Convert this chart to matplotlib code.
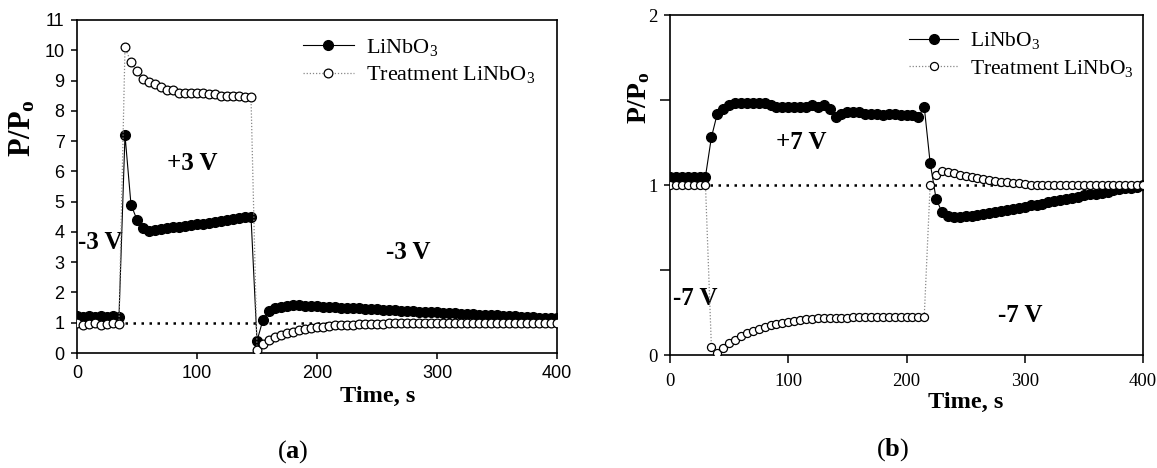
import numpy as np
import matplotlib
matplotlib.use("Agg")
import matplotlib.pyplot as plt

plt.rcParams['font.family'] = ['Liberation Serif', 'DejaVu Serif']
plt.rcParams['mathtext.fontset'] = 'custom'
plt.rcParams['mathtext.rm'] = 'Liberation Serif'
plt.rcParams['mathtext.it'] = 'Liberation Serif:italic'
plt.rcParams['mathtext.bf'] = 'Liberation Serif:bold'

# ---------------- data: panel (a) ----------------
time_a = list(range(0, 401, 5))
lin_a = ([1.22, 1.2, 1.22, 1.2, 1.21, 1.2, 1.22, 1.2,
          7.2, 4.9, 4.4, 4.12, 4.02, 4.05, 4.08, 4.12, 4.15, 4.17, 4.2, 4.22,
          4.25, 4.27, 4.3, 4.33, 4.36, 4.38, 4.42, 4.45, 4.48, 4.5,
          0.4, 1.1, 1.38, 1.48, 1.53, 1.56, 1.57, 1.57, 1.56, 1.55, 1.54,
          1.53, 1.52, 1.51, 1.5, 1.49, 1.48, 1.47, 1.46, 1.45, 1.44,
          1.43, 1.42, 1.41, 1.4, 1.39, 1.38, 1.37, 1.36, 1.35, 1.34,
          1.33, 1.32, 1.31, 1.3, 1.29, 1.28, 1.27, 1.26, 1.25, 1.24,
          1.23, 1.22, 1.21, 1.2, 1.19, 1.18, 1.17, 1.16, 1.16, 1.15])
treat_a = ([1.0, 0.93, 0.95, 1.0, 0.92, 0.97, 0.98, 0.97,
            10.1, 9.6, 9.3, 9.05, 8.95, 8.9, 8.8, 8.7, 8.7, 8.6, 8.6, 8.6,
            8.6, 8.6, 8.55, 8.55, 8.5, 8.5, 8.5, 8.5, 8.45, 8.45,
            0.1, 0.3, 0.42, 0.52, 0.6, 0.66, 0.71, 0.75, 0.79, 0.82, 0.85,
            0.87, 0.89, 0.91, 0.92, 0.93, 0.94, 0.95, 0.96, 0.96, 0.97,
            0.97, 0.98, 0.98, 0.98, 0.99, 0.99, 0.99, 0.99, 1.0, 1.0,
            1.0, 1.0, 1.0, 1.0, 1.0, 1.0, 1.0, 1.0, 1.0, 1.0,
            1.0, 1.0, 1.0, 1.0, 1.0, 1.0, 1.0, 1.0, 1.0, 1.0])

# ---------------- data: panel (b) ----------------
time_b = list(range(0, 401, 5))
lin_b = ([1.05, 1.05, 1.05, 1.05, 1.05, 1.05, 1.05,
          1.28, 1.42, 1.45, 1.47, 1.48, 1.48, 1.48, 1.48, 1.48, 1.48, 1.47,
          1.46, 1.46, 1.46, 1.46, 1.46, 1.46, 1.47, 1.46, 1.47, 1.45, 1.40,
          1.42, 1.43, 1.43, 1.43, 1.42, 1.42, 1.42, 1.41, 1.42, 1.42, 1.41,
          1.41, 1.41, 1.40, 1.46,
          1.13, 0.92, 0.84, 0.82, 0.81, 0.81, 0.815,
          0.82, 0.825, 0.83, 0.835, 0.84, 0.85, 0.855, 0.86, 0.865, 0.87,
          0.88, 0.885, 0.89, 0.90, 0.905, 0.91, 0.92, 0.925, 0.93, 0.94,
          0.945, 0.95, 0.955, 0.96, 0.97, 0.975, 0.98, 0.985, 0.99, 1.0])
treat_b = ([1.0, 1.0, 1.0, 1.0, 1.0, 1.0, 1.0,
            0.05, 0.01, 0.04, 0.07, 0.09, 0.11, 0.13, 0.14, 0.155, 0.165,
            0.175, 0.18, 0.19, 0.195, 0.2, 0.205, 0.21, 0.21, 0.215, 0.215,
            0.22, 0.22, 0.22, 0.22, 0.225, 0.225, 0.225, 0.225, 0.225, 0.225,
            0.225, 0.225, 0.225, 0.225, 0.225, 0.225, 0.225,
            1.0, 1.06, 1.08, 1.075, 1.07, 1.06, 1.055, 1.05, 1.04, 1.035,
            1.03, 1.025, 1.02, 1.015, 1.01, 1.01, 1.005, 1.0, 1.0, 1.0,
            1.0, 1.0, 1.0, 1.0, 1.0, 1.0, 1.0, 1.0, 1.0, 1.0, 1.0,
            1.0, 1.0, 1.0, 1.0, 1.0, 1.0])

labels_series = ['LiNbO$_3$', 'Treatment LiNbO$_3$']
ref_level = 1.0

W, H = 1157, 468
fig = plt.figure(figsize=(W / 100, H / 100), dpi=100)
ax1 = fig.add_axes([77 / W, 1 - 353 / H, 480 / W, 333 / H])
ax2 = fig.add_axes([670 / W, 1 - 355 / H, 473 / W, 340 / H])


def draw(ax, t, lin, treat, ms_f, ms_o):
    ax.plot([0, 400], [ref_level, ref_level], color='black', lw=1.8,
            linestyle=(0, (1, 2.2)), zorder=1)
    h1, = ax.plot(t, lin, color='black', lw=0.8, marker='o', ms=ms_f,
                  mfc='black', mec='black', zorder=3, label=labels_series[0])
    h2, = ax.plot(t, treat, color='#888888', lw=0.9, linestyle=(0, (1, 1.5)),
                  marker='o', ms=ms_o, mfc='white', mec='black', mew=0.9,
                  zorder=4, label=labels_series[1])
    ax.set_xlim(0, 400)
    ax.set_xticks([0, 100, 200, 300, 400])
    for s in ax.spines.values():
        s.set_linewidth(1.2)
    return h1, h2


# ---- panel (a)
h1, h2 = draw(ax1, time_a, lin_a, treat_a, 7.0, 6.3)
ax1.set_ylim(0, 11)
ax1.set_yticks(range(0, 12))
ax1.tick_params(direction='out', length=4, width=1.1, pad=5, labelsize=13)
for lab in ax1.get_xticklabels() + ax1.get_yticklabels():
    lab.set_family(['Liberation Sans', 'DejaVu Sans'])
ax1.set_ylabel(r'$\mathbf{P/P_o}$', fontsize=22)
ax1.yaxis.set_label_coords(-0.083, 0.675)
ax1.set_xlabel('Time, s', fontsize=17.5, fontweight='bold')
ax1.xaxis.set_label_coords(0.627, -0.098)
ax1.legend(handles=[h1, h2], loc='upper left', bbox_to_anchor=(0.47, 0.95),
           frameon=False, fontsize=16, handlelength=2.3, handletextpad=0.55,
           labelspacing=0.3, borderpad=0, borderaxespad=0)
ax1.text(96, 6.27, '+3 V', fontsize=18, fontweight='bold', ha='center', va='center')
ax1.text(19, 3.65, '-3 V', fontsize=18, fontweight='bold', ha='center', va='center')
ax1.text(276, 3.31, '-3 V', fontsize=18, fontweight='bold', ha='center', va='center')

# ---- panel (b)
g1, g2 = draw(ax2, time_b, lin_b, treat_b, 7.0, 5.8)
ax2.set_ylim(0, 2)
ax2.set_yticks([0, 1, 2])
ax2.set_yticks([0.5, 1.5], minor=True)
ax2.tick_params(direction='out', length=6, width=1.1, pad=7, labelsize=13.5)
ax2.tick_params(axis='y', which='major', length=4, pad=5)
ax2.tick_params(axis='y', which='minor', length=7, width=1.1)
ax2.set_ylabel(r'$\mathbf{P/P_o}$', fontsize=20)
ax2.yaxis.set_label_coords(-0.038, 0.756)
ax2.set_xlabel('Time, s', fontsize=17.5, fontweight='bold')
ax2.xaxis.set_label_coords(0.626, -0.11)
ax2.legend(handles=[g1, g2], loc='upper left', bbox_to_anchor=(0.505, 0.955),
           frameon=False, fontsize=15.5, handlelength=2.3, handletextpad=0.55,
           labelspacing=0.3, borderpad=0, borderaxespad=0)
ax2.text(111, 1.25, '+7 V', fontsize=18, fontweight='bold', ha='center', va='center')
ax2.text(21, 0.335, '-7 V', fontsize=18, fontweight='bold', ha='center', va='center')
ax2.text(296, 0.235, '-7 V', fontsize=18, fontweight='bold', ha='center', va='center')

# ---- panel labels
fig.text(293 / W, 1 - 452 / H, r'($\mathbf{a}$)', fontsize=19, ha='center', va='center')
fig.text(893 / W, 1 - 450 / H, r'($\mathbf{b}$)', fontsize=19, ha='center', va='center')

fig.savefig('out.png', dpi=100)
